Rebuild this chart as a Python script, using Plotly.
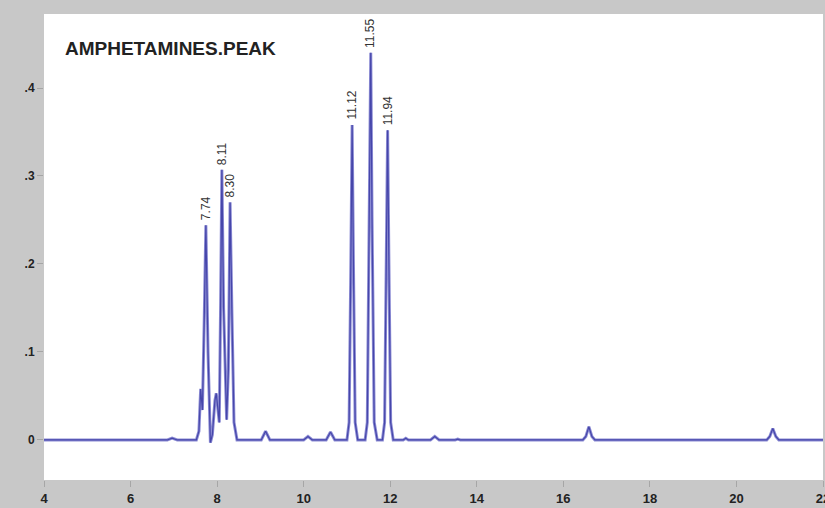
import plotly.graph_objects as go

# Chromatogram trace (time in minutes, absorbance)
time_min = [
    4.00, 6.85, 6.96, 7.08,
    7.52, 7.58, 7.62, 7.66, 7.70, 7.74, 7.79, 7.845, 7.89, 7.95, 7.98, 8.02, 8.05,
    8.08, 8.11, 8.15, 8.22, 8.26, 8.30, 8.34, 8.39, 8.46,
    9.02, 9.12, 9.22,
    10.00, 10.10, 10.20,
    10.52, 10.62, 10.72,
    11.00, 11.05, 11.09, 11.12, 11.15, 11.19, 11.25,
    11.42, 11.47, 11.52, 11.55, 11.58, 11.63, 11.70,
    11.82, 11.87, 11.91, 11.94, 11.97, 12.01, 12.07,
    12.30, 12.36, 12.42, 12.93, 13.03, 13.13, 13.50, 13.56, 13.62,
    16.45, 16.52, 16.59, 16.66, 16.73,
    20.70, 20.77, 20.84, 20.91, 20.98,
    22.00,
]
signal = [
    0.000, 0.000, 0.002, 0.000,
    0.000, 0.010, 0.058, 0.034, 0.130, 0.244, 0.100, -0.003, 0.006, 0.045, 0.053, 0.030, 0.020,
    0.150, 0.307, 0.150, 0.023, 0.080, 0.270, 0.150, 0.020, 0.000,
    0.000, 0.010, 0.000,
    0.000, 0.004, 0.000,
    0.000, 0.009, 0.000,
    0.000, 0.020, 0.200, 0.358, 0.200, 0.020, 0.000,
    0.000, 0.020, 0.250, 0.440, 0.250, 0.020, 0.000,
    0.000, 0.020, 0.200, 0.352, 0.200, 0.020, 0.000,
    0.000, 0.002, 0.000, 0.000, 0.004, 0.000, 0.000, 0.001, 0.000,
    0.000, 0.004, 0.015, 0.004, 0.000,
    0.000, 0.004, 0.013, 0.004, 0.000,
    0.000,
]

# Labelled peaks
peak_labels = ["7.74", "8.11", "8.30", "11.12", "11.55", "11.94"]
peak_times = [7.74, 8.11, 8.30, 11.12, 11.55, 11.94]
peak_heights = [0.244, 0.307, 0.270, 0.358, 0.440, 0.352]

x_ticks = [4, 6, 8, 10, 12, 14, 16, 18, 20, 22]
y_ticks = [0, 0.1, 0.2, 0.3, 0.4]
y_tick_text = ["0", ".1", ".2", ".3", ".4"]

title_text = "AMPHETAMINES.PEAK"

FONT = "Liberation Sans, Arial, sans-serif"

fig = go.Figure()
fig.add_trace(go.Scatter(x=time_min, y=signal, mode="lines",
                         line=dict(color="#8c8cd4", width=3.0),
                         hoverinfo="skip", showlegend=False))
fig.add_trace(go.Scatter(x=time_min, y=signal, mode="lines",
                         line=dict(color="#4646aa", width=1.2),
                         showlegend=False))

for lab, t, h in zip(peak_labels, peak_times, peak_heights):
    fig.add_annotation(x=t, y=h, xref="x", yref="y", text=lab, showarrow=False,
                       textangle=-90, xanchor="center", yanchor="bottom", yshift=3,
                       font=dict(family=FONT, size=12, color="#333333"))

fig.add_annotation(x=0.0245, y=0.927, xref="paper", yref="paper", text=title_text,
                   showarrow=False, xanchor="left", yanchor="middle",
                   font=dict(family=FONT, size=19, color="#222222", weight="bold"))

fig.update_layout(
    width=825, height=508,
    margin=dict(l=44, r=2, t=14, b=28),
    paper_bgcolor="#c8c8c8",
    plot_bgcolor="#ffffff",
    showlegend=False,
    xaxis=dict(range=[4, 22], tickvals=x_ticks, ticks="outside", ticklen=6,
               tickcolor="#a6a6a6", showgrid=False, zeroline=False, showline=False,
               automargin=False, ticklabeloverflow="allow",
               tickfont=dict(family=FONT, size=13, color="#222222", weight="bold")),
    yaxis=dict(range=[-0.0455, 0.4841], tickvals=y_ticks, ticktext=y_tick_text,
               ticks="outside", ticklen=6, tickcolor="#a6a6a6", showgrid=False,
               zeroline=False, showline=False, automargin=False,
               tickfont=dict(family=FONT, size=12, color="#222222", weight="bold")),
)

fig.write_html("out.html", config={"displayModeBar": False},
               post_script="document.body.style.margin='0';document.body.style.overflow='hidden';")
